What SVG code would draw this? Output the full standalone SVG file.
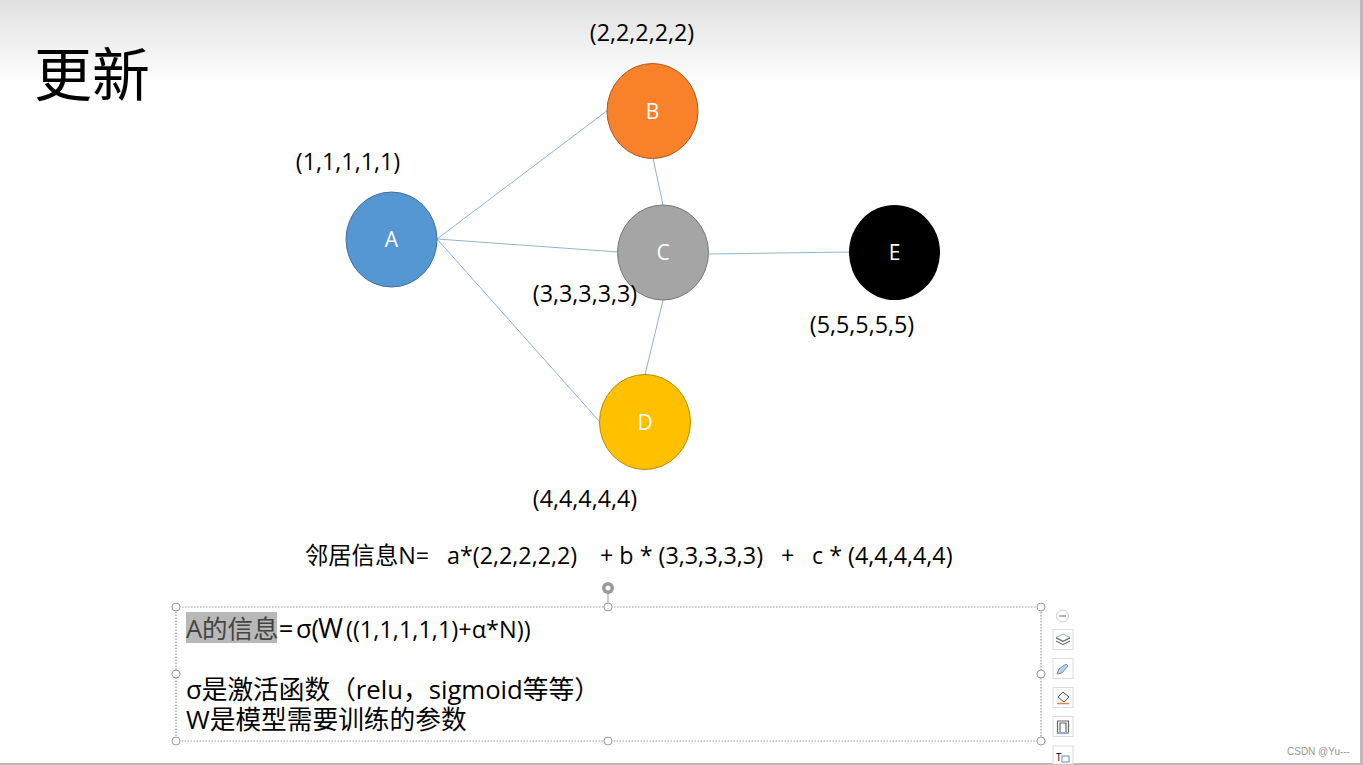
<svg xmlns="http://www.w3.org/2000/svg" width="1363" height="765" viewBox="0 0 1363 765">
<style>
text{font-family:"Open Sans","Noto Sans","Noto Sans CJK SC",sans-serif;fill:#000}
.cjk{font-family:"Noto Sans CJK SC","Open Sans",sans-serif}
.lbl{font-size:23.300px;text-anchor:middle}
.nl{font-size:21px;text-anchor:middle;fill:#fff}
.edge{stroke:#8fb4d0;stroke-width:1;fill:none}
.handle{fill:#fff;stroke:#999;stroke-width:1}
.sel{fill:none;stroke:#999;stroke-width:1.200;stroke-dasharray:1.500 1.500}
.tool{fill:#fff;stroke:#ddd;stroke-width:1}
</style>
<defs>
<linearGradient id="hdr" x1="0" y1="0" x2="0" y2="1"><stop offset="0" stop-color="#e0e0e0"/><stop offset="1" stop-color="#fff"/></linearGradient>
</defs>
<rect width="1363" height="765" fill="#fff"/>
<rect width="1363" height="85" fill="url(#hdr)"/>
<rect x="0" y="763" width="1363" height="2" fill="#bbb"/>
<rect x="1360" y="0" width="3" height="765" fill="#bbb"/>
<text class="cjk" x="34" y="96" font-size="58">更新</text>
<g id="connectors">
<line class="edge" x1="437" y1="239" x2="608" y2="110"/>
<line class="edge" x1="437" y1="239" x2="618" y2="252"/>
<line class="edge" x1="437" y1="239" x2="600" y2="422"/>
<line class="edge" x1="653" y1="158" x2="663" y2="205"/>
<line class="edge" x1="663" y1="300" x2="645" y2="375"/>
<line class="edge" x1="708" y1="254" x2="849" y2="252"/>
</g>
<g id="node-a"><ellipse cx="391.500" cy="239.500" rx="45.500" ry="47.500" fill="#5597d3" stroke="#41719c" stroke-width="1"/><text class="nl" x="391.500" y="247">A</text></g>
<g id="node-b"><ellipse cx="652.500" cy="111" rx="45.500" ry="47.500" fill="#f9812a" stroke="#ae5a21" stroke-width="1"/><text class="nl" x="652.500" y="119">B</text></g>
<g id="node-c"><ellipse cx="663" cy="252.500" rx="45.500" ry="47.500" fill="#a5a5a5" stroke="#787878" stroke-width="1"/><text class="nl" x="663" y="260">C</text></g>
<g id="node-d"><ellipse cx="645" cy="422" rx="45.500" ry="47.500" fill="#ffc000" stroke="#bc8c00" stroke-width="1"/><text class="nl" x="645" y="430">D</text></g>
<g id="node-e"><ellipse cx="894.500" cy="252.500" rx="45.500" ry="47.500" fill="#000"/><text class="nl" x="894.500" y="260">E</text></g>
<text class="lbl" x="642" y="41">(2,2,2,2,2)</text>
<text class="lbl" x="348" y="170">(1,1,1,1,1)</text>
<text class="lbl" x="585" y="302">(3,3,3,3,3)</text>
<text class="lbl" x="862" y="333">(5,5,5,5,5)</text>
<text class="lbl" x="585" y="507">(4,4,4,4,4)</text>
<text x="305" y="564" font-size="23.300" xml:space="preserve">邻居信息N=<tspan x="447">a*(2,2,2,2,2)</tspan><tspan x="600">+ b * (3,3,3,3,3)</tspan><tspan x="781">+</tspan><tspan x="812">c * (4,4,4,4,4)</tspan></text>
<g id="selection">
<rect class="sel" x="176" y="607" width="865" height="134"/>
<line x1="608" y1="594" x2="608" y2="606" stroke="#999"/>
<circle cx="608" cy="588" r="6" fill="#999"/><circle cx="608" cy="588" r="2.500" fill="#fff"/>
<circle class="handle" cx="176" cy="607" r="4"/><circle class="handle" cx="608" cy="607" r="4"/><circle class="handle" cx="1041" cy="607" r="4"/>
<circle class="handle" cx="176" cy="674" r="4"/><circle class="handle" cx="1041" cy="674" r="4"/>
<circle class="handle" cx="176" cy="741" r="4"/><circle class="handle" cx="608" cy="741" r="4"/><circle class="handle" cx="1041" cy="741" r="4"/>
</g>
<rect x="186" y="612" width="91" height="31" fill="#b8b8b8"/>
<text x="186" y="638" font-size="25.500" xml:space="preserve"><tspan fill="#444">A的信息</tspan>=<tspan x="296">σ(</tspan><tspan font-size="27" x="318">W</tspan><tspan font-size="23.500" x="346">((1,1,1,1,1)+α*N))</tspan></text>
<text x="186" y="699" font-size="25.700">σ是激活函数（relu，sigmoid等等）</text>
<text x="186" y="729" font-size="25.700">W是模型需要训练的参数</text>
<g id="toolbar">
<circle cx="1062.500" cy="616" r="6" fill="#fff" stroke="#ccc"/><line x1="1059" y1="616" x2="1066" y2="616" stroke="#999" stroke-width="1.500"/>
<rect class="tool" x="1053" y="629.500" width="20" height="20"/>
<path d="M1063 634l7 3.500-7 3.500-7-3.500z" fill="none" stroke="#8fabd6"/><path d="M1056 641l7 3.500 7-3.500M1056 638l7 3.500 7-3.500" fill="none" stroke="#555"/>
<rect class="tool" x="1053" y="658.500" width="20" height="20"/>
<path d="M1057 674l2-5 7-5 2 2-6 7z" fill="#bcd0ea" stroke="#6f8fb8"/>
<rect class="tool" x="1053" y="687.500" width="20" height="20"/>
<path d="M1058 697l5-5 6 5-5 5z" fill="none" stroke="#555"/><line x1="1057" y1="703.500" x2="1069" y2="703.500" stroke="#d98a4a" stroke-width="1.500"/>
<rect class="tool" x="1053" y="716.500" width="20" height="20"/>
<path d="M1057.500 732v-11h11v11M1060 732v-9h6v9" fill="none" stroke="#666" stroke-width="1.200"/><line x1="1057" y1="733" x2="1069" y2="733" stroke="#6f8fb8" stroke-width="1.500"/>
<rect class="tool" x="1053" y="746" width="20" height="18"/>
<text x="1056" y="761" font-size="10" fill="#444">T</text><rect x="1062" y="756" width="7" height="6" fill="none" stroke="#6f8fb8"/>
</g>
<text x="1287" y="755" font-size="10" style="font-family:'Liberation Sans',sans-serif;fill:#999">CSDN @Yu---</text>
</svg>
